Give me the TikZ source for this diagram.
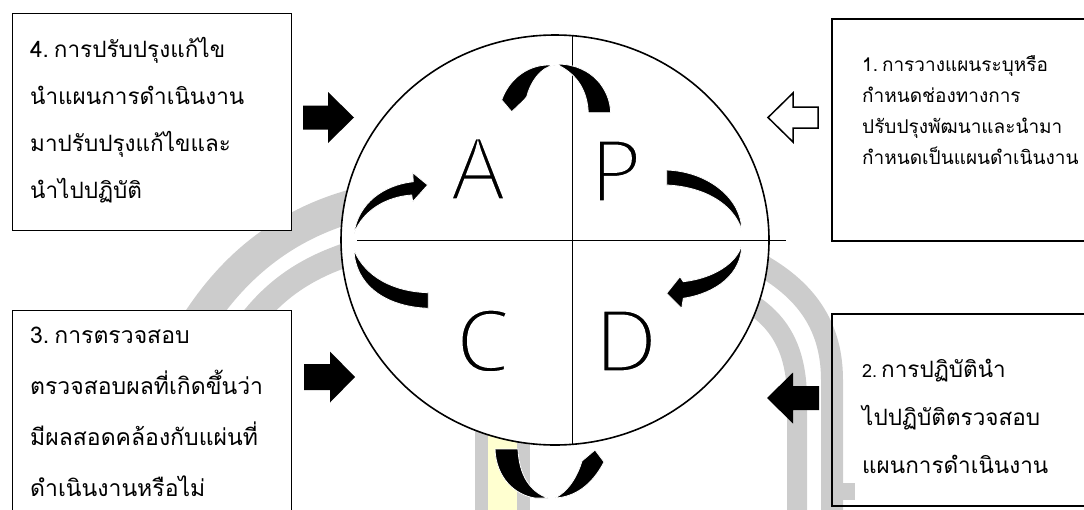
\documentclass[tikz,border=0pt]{standalone}
\usepackage{fontspec}
\setmainfont[Script=Thai]{Loma}
\newfontfamily\letterfont{Open Sans}
\usetikzlibrary{shapes.geometric}
\definecolor{sealgrey}{RGB}{204,204,204}
\definecolor{sealyellow}{RGB}{255,255,208}
% thin the big letters with a white outline stroke
\newcommand\slimtext[1]{\special{pdf:literal direct q 2 Tr 1 1 1 RG 3.2 w}#1\special{pdf:literal direct Q}}
\tikzset{
  frame/.style={draw, line width=#1, inner sep=0pt, anchor=north west},
  frame/.default=1pt,
  say/.style 2 args={anchor=west, align=left, inner sep=0pt, font=\fontsize{#1}{#2}\selectfont},
  big/.style={anchor=base, inner sep=0pt, font=\letterfont\fontsize{87}{87}\selectfont},
  swoosh/.style={fill=black, draw=white, line width=0.8pt},
  seal/.style={draw=sealgrey, line width=#1},
}
\begin{document}
\begin{tikzpicture}[x=1pt,y=-1pt]
\useasboundingbox (0,0) rectangle (1084,509);

% watermark behind
\draw[seal=33] (198,322) .. controls (235,265) and (285,225) .. (352,206);
\draw[seal=24] (250,322) .. controls (275,290) and (305,268) .. (352,253);
\draw[seal=22] (752,260) .. controls (800,285) and (832,320) .. (832,380) -- (832,515);
\fill[sealgrey] (832,483) rectangle (855,500);
\draw[seal=20] (745,300) .. controls (780,320) and (797,350) .. (797,400) -- (797,515);
\fill[sealgrey] (475,425) rectangle (530,515);
\fill[sealyellow] (488,425) rectangle (517,515);

% cycle
\node[draw, ellipse, line width=1.6pt, fill=white, minimum width=428pt, minimum height=410pt, inner sep=0pt] (ring) at (555,240) {};
\draw[line width=0.8pt] (572,36) -- (572,444);
\draw[line width=0.8pt] (357,240) -- (786,240);

\node[big] (lA) at (478,200) {\slimtext{A}};
\node[big] (lP) at (616,202) {\slimtext{P}};
\node[big] (lC) at (483,372) {\slimtext{C}};
\node[big] (lD) at (626,372) {\slimtext{D}};

% turning arrows
\fill[swoosh] (501.7,100) .. controls (510,76.7) and (530,65) .. (548.3,65) -- (555,65) .. controls (540,66.7) and (530,83.3) .. (526.7,96.7) -- (524,100) -- (511.7,111.7) -- cycle;
\fill[swoosh] (558.3,64) .. controls (593,65) and (610,90) .. (610.7,112.7) -- (588.3,112.7) .. controls (587.3,90) and (576.7,75) .. (560,66) -- cycle;
\fill[swoosh] (666.7,170) .. controls (710,171.7) and (741.7,200) .. (741.7,230) .. controls (733.3,203.3) and (703.3,186.7) .. (666.7,185) -- cycle;
\fill[swoosh] (741.7,245) .. controls (741.7,273.3) and (716.7,293.3) .. (683.3,298.3) -- (681.7,308.3) -- (666.7,293.3) -- (680,276.7) -- (683.3,281.7) .. controls (713.3,278.3) and (736.7,263.3) .. (741.7,245) -- cycle;
\fill[swoosh] (354,233.3) .. controls (358.3,203.3) and (383.3,185) .. (413.3,181.7) -- (412.7,172.7) -- (427.7,185) -- (412.7,201.7) -- (411.7,195) .. controls (386.7,196.7) and (363.3,210) .. (354,233.3) -- cycle;
\fill[swoosh] (354,250) .. controls (355,283.3) and (383.3,306.7) .. (428.3,308.3) -- (428.3,292.7) .. controls (393.3,291.7) and (365,276.7) .. (354,250) -- cycle;
\fill[swoosh] (495,449) -- (518,449) .. controls (519,475) and (530,492) .. (548,498) -- (535,498) .. controls (515,495) and (496,478) .. (495,449) -- cycle;
\fill[swoosh] (555,498) .. controls (575,497) and (592,485) .. (604,462) -- (595,450) -- (582,461) -- (580,467) .. controls (575,480) and (567,492) .. (555,498) -- cycle;

% text boxes
\node[frame, fill=white, minimum width=279pt, minimum height=217pt] (boxA) at (12,13) {};
\node[frame=1.8pt, minimum width=280pt, minimum height=222pt] (boxP) at (831,18) {};
\node[frame, fill=white, minimum width=279pt, minimum height=230pt] (boxC) at (12,310) {};
\node[frame=1.8pt, minimum width=280pt, minimum height=192pt] (boxD) at (831,313) {};

\node[say={22.5}{47}] (txtA) at (30,120) {4.\hspace{5pt}การปรับปรุงแก้ไข\\นำแผนการดำเนินงาน\\มาปรับปรุงแก้ไขและ\\นำไปปฏิบัติ};
\node[say={19}{31}] (txtP) at (862,110) {1.\hspace{4pt}การวางแผนระบุหรือ\\กำหนดช่องทางการ\\ปรับปรุงพัฒนาและนำมา\\กำหนดเป็นแผนดำเนินงาน};
\node[say={23}{51}] (txtC) at (30,412) {3.\hspace{5pt}การตรวจสอบ\\ตรวจสอบผลที่เกิดขึ้นว่า\\มีผลสอดคล้องกับแผ่นที่\\ดำเนินงานหรือไม่};
\node[say={22.5}{48}] (txtD) at (862,416) {{\fontsize{18}{18}\selectfont 2.}\hspace{4pt}การปฏิบัตินำ\\ไปปฏิบัติตรวจสอบ\\แผนการดำเนินงาน};

% block arrows
\fill (303,105.5) -- (328,105.5) -- (328,92) -- (354,117.5) -- (328,143) -- (328,129.5) -- (303,129.5) -- cycle;
\fill (304,364) -- (330,364) -- (330,351.5) -- (355,377) -- (330,402.5) -- (330,390) -- (304,390) -- cycle;
\draw[fill=white, line width=1.5pt] (818,107) -- (793,107) -- (793,93) -- (768,117.5) -- (793,142) -- (793,128) -- (818,128) -- cycle;
\fill (819,386) -- (793,386) -- (793,372.5) -- (767,398) -- (793,423.5) -- (793,410) -- (819,410) -- cycle;
\end{tikzpicture}
\end{document}
